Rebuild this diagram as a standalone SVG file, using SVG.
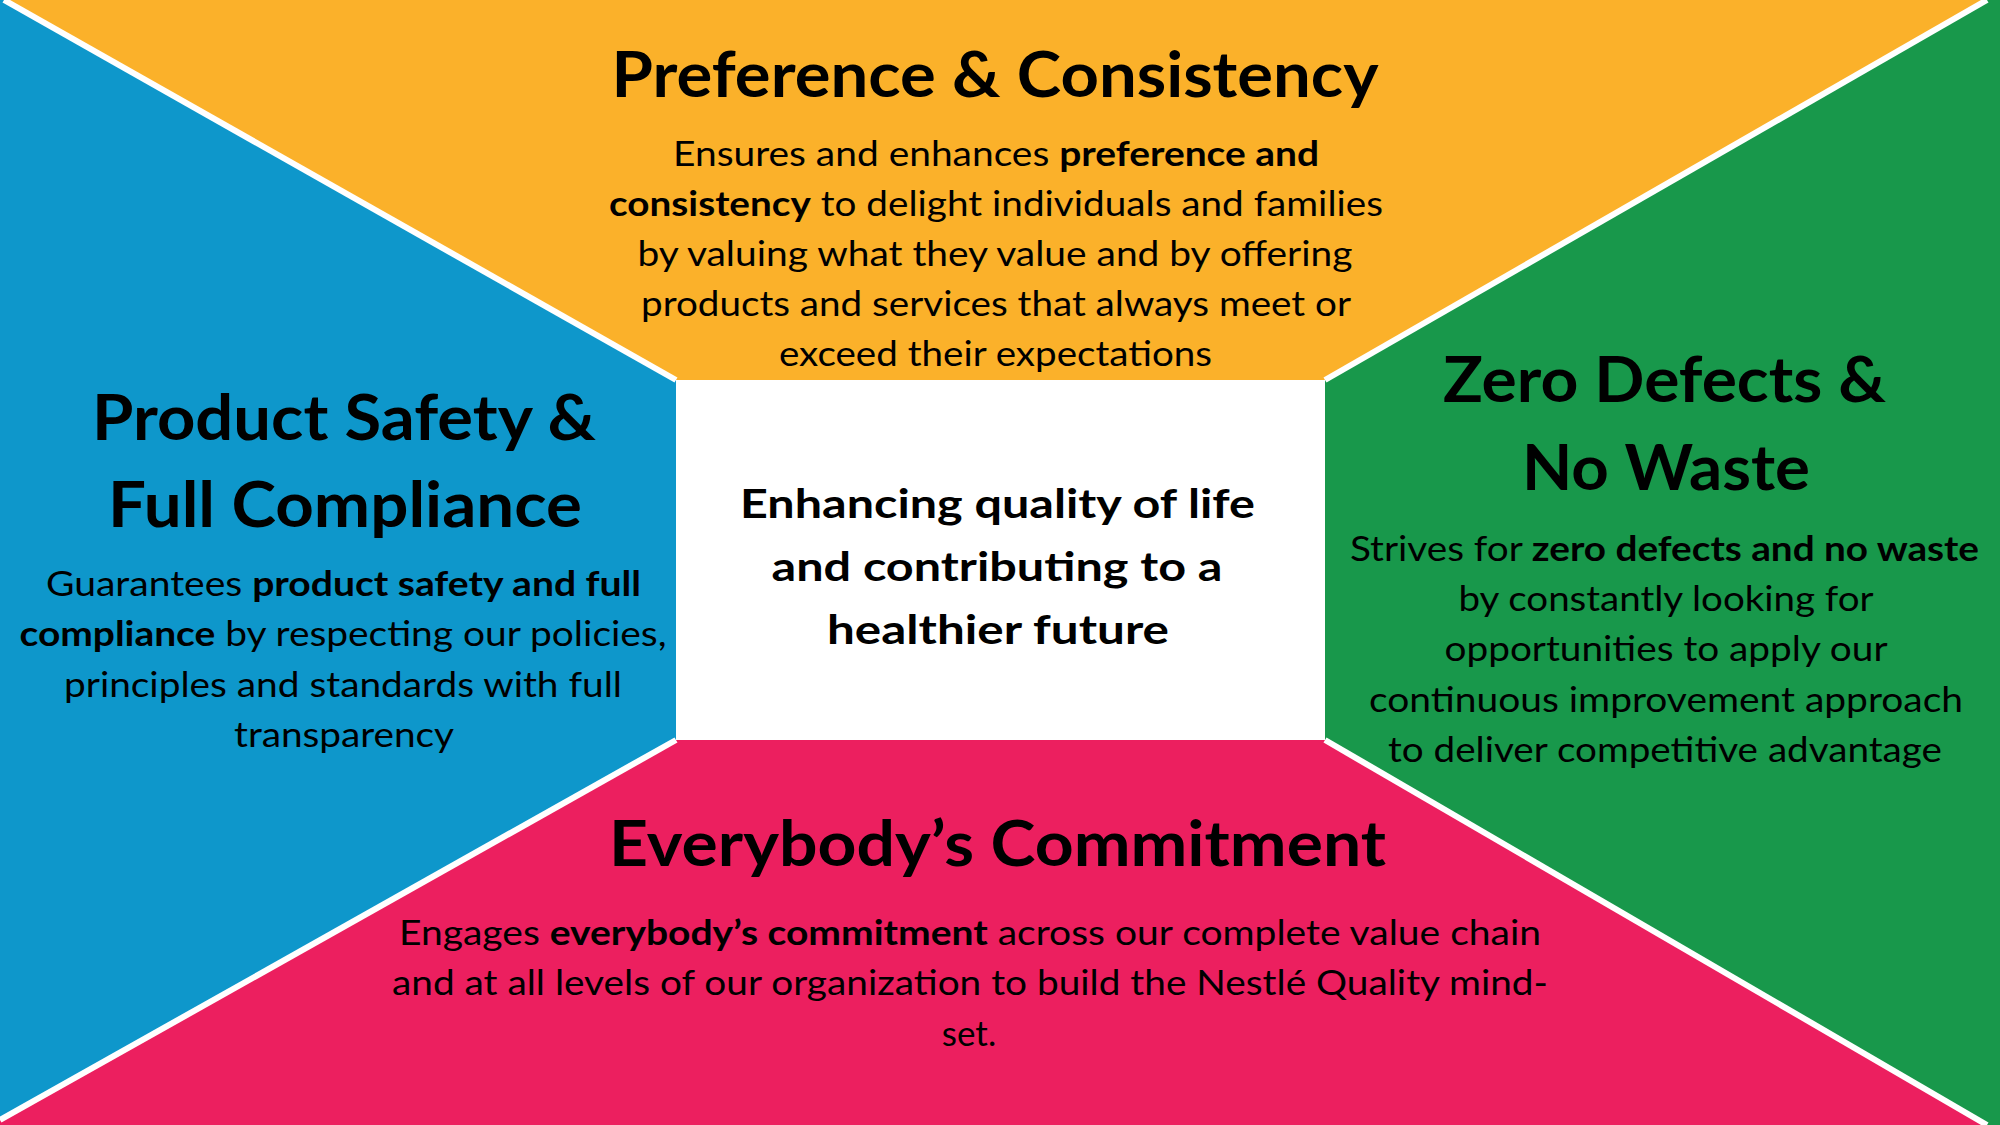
<svg xmlns="http://www.w3.org/2000/svg" width="2000" height="1125" viewBox="0 0 2000 1125">
<style>
.t{font-family:Lato,"Open Sans","Liberation Sans",sans-serif;fill:#000;text-anchor:middle}
.h{font-size:63px;font-weight:700}
.c{font-size:40px;font-weight:700}
.b{font-size:35px;font-weight:400}
.b tspan{font-weight:700}
.sep{stroke:#fff;stroke-width:6;fill:none}
</style>
<rect x="0" y="0" width="2000" height="1125" fill="#fff"/>
<g id="preference">
<polygon points="4,0 1987,0 1325,380 676,380" fill="#FBB12A"/>
<text class="t h" x="995" y="97" textLength="767" lengthAdjust="spacingAndGlyphs">Preference &amp; Consistency</text>
<text class="t b" x="996" y="166" textLength="646" lengthAdjust="spacingAndGlyphs">Ensures and enhances <tspan>preference and</tspan></text>
<text class="t b" x="996" y="216" textLength="774" lengthAdjust="spacingAndGlyphs"><tspan>consistency</tspan> to delight individuals and families</text>
<text class="t b" x="995" y="266" textLength="715" lengthAdjust="spacingAndGlyphs">by valuing what they value and by offering</text>
<text class="t b" x="996" y="316" textLength="710" lengthAdjust="spacingAndGlyphs">products and services that always meet or</text>
<text class="t b" x="995.5" y="366" textLength="433" lengthAdjust="spacingAndGlyphs">exceed their expectations</text>
</g>
<g id="safety">
<polygon points="0,0 4,0 676,380 676,740 0,1120" fill="#0E97CB"/>
<text class="t h" x="344" y="440" textLength="504" lengthAdjust="spacingAndGlyphs">Product Safety &amp;</text>
<text class="t h" x="345" y="527" textLength="474" lengthAdjust="spacingAndGlyphs">Full Compliance</text>
<text class="t b" x="343.5" y="596" textLength="595" lengthAdjust="spacingAndGlyphs">Guarantees <tspan>product safety and full</tspan></text>
<text class="t b" x="343" y="646" textLength="647" lengthAdjust="spacingAndGlyphs"><tspan>compliance</tspan> by respecting our policies,</text>
<text class="t b" x="343" y="697" textLength="558" lengthAdjust="spacingAndGlyphs">principles and standards with full</text>
<text class="t b" x="344" y="747" textLength="220" lengthAdjust="spacingAndGlyphs">transparency</text>
</g>
<g id="zero-defects">
<polygon points="1987,0 2000,0 2000,1125 1987,1125 1325,740 1325,380" fill="#18984B"/>
<text class="t h" x="1664.5" y="402" textLength="443" lengthAdjust="spacingAndGlyphs">Zero Defects &amp;</text>
<text class="t h" x="1666" y="490" textLength="288" lengthAdjust="spacingAndGlyphs">No Waste</text>
<text class="t b" x="1664.5" y="561" textLength="629" lengthAdjust="spacingAndGlyphs">Strives for <tspan>zero defects and no waste</tspan></text>
<text class="t b" x="1666" y="611" textLength="415" lengthAdjust="spacingAndGlyphs">by constantly looking for</text>
<text class="t b" x="1666" y="661" textLength="443" lengthAdjust="spacingAndGlyphs">opportunities to apply our</text>
<text class="t b" x="1666" y="712" textLength="594" lengthAdjust="spacingAndGlyphs">continuous improvement approach</text>
<text class="t b" x="1665" y="762" textLength="554" lengthAdjust="spacingAndGlyphs">to deliver competitive advantage</text>
</g>
<g id="commitment">
<polygon points="0,1120 676,740 1325,740 1987,1125 0,1125" fill="#EC1F5F"/>
<text class="t h" x="997.5" y="866" textLength="777" lengthAdjust="spacingAndGlyphs">Everybody’s Commitment</text>
<text class="t b" x="970" y="945" textLength="1142" lengthAdjust="spacingAndGlyphs">Engages <tspan>everybody’s commitment</tspan> across our complete value chain</text>
<text class="t b" x="970" y="995" textLength="1156" lengthAdjust="spacingAndGlyphs">and at all levels of our organization to build the Nestlé Quality mind-</text>
<text class="t b" x="969" y="1046">set.</text>
</g>
<g id="center">
<rect x="676" y="380" width="649" height="360" fill="#fff"/>
<text class="t c" x="997.5" y="518" textLength="515" lengthAdjust="spacingAndGlyphs">Enhancing quality of life</text>
<text class="t c" x="997" y="581" textLength="451" lengthAdjust="spacingAndGlyphs">and contributing to a</text>
<text class="t c" x="998" y="644" textLength="342" lengthAdjust="spacingAndGlyphs">healthier future</text>
</g>
<g id="connectors">
<line class="sep" x1="4" y1="0" x2="676" y2="380"/>
<line class="sep" x1="1987" y1="0" x2="1325" y2="380"/>
<line class="sep" x1="0" y1="1120" x2="676" y2="740"/>
<line class="sep" x1="1987" y1="1125" x2="1325" y2="740"/>
</g>
</svg>
